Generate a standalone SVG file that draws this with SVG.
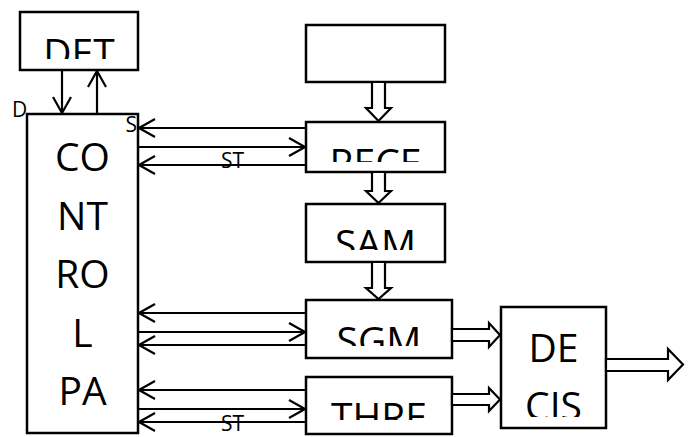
<svg xmlns="http://www.w3.org/2000/svg" width="691" height="437" viewBox="0 0 691 437">
<style>
.box{fill:#fff;stroke:#000;stroke-width:2.5}
.big{font-family:"Open Sans","Noto Sans",sans-serif;font-size:39px;fill:#000;text-anchor:middle}
.small{font-family:"Open Sans","Noto Sans",sans-serif;font-size:21px;fill:#000}
.ln{fill:none;stroke:#000;stroke-width:2.2}
.hol{fill:#fff;stroke:#000;stroke-width:2.2;stroke-linejoin:miter}
</style>
<defs>
<marker id="v" viewBox="0 0 18 20" refX="17" refY="10" markerWidth="18" markerHeight="20" markerUnits="userSpaceOnUse" orient="auto">
<path d="M1,1 L17,10 L1,19" fill="none" stroke="#000" stroke-width="2.2"/>
</marker>
<clipPath id="cDET"><rect x="20" y="12" width="118" height="47"/></clipPath>
<clipPath id="cRECE"><rect x="306" y="122" width="139" height="40"/></clipPath>
<clipPath id="cSAM"><rect x="306" y="204" width="139" height="46"/></clipPath>
<clipPath id="cSGM"><rect x="306" y="300" width="146" height="46"/></clipPath>
<clipPath id="cTHRE"><rect x="306" y="377" width="146" height="43"/></clipPath>
<clipPath id="cCIS"><rect x="501" y="307" width="105" height="110"/></clipPath>
</defs>

<g id="det">
<rect class="box" x="20" y="12" width="118" height="58"/>
<text class="big" x="79" y="67" clip-path="url(#cDET)">DET</text>
</g>

<g id="control">
<rect class="box" x="27" y="114" width="111" height="319"/>
<text class="big" x="82.5" y="171">CO</text>
<text class="big" x="82.5" y="229.5">NT</text>
<text class="big" x="82.5" y="288">RO</text>
<text class="big" x="82.5" y="346.5">L</text>
<text class="big" x="82.5" y="405">PA</text>
</g>

<g id="source">
<rect class="box" x="306" y="25" width="139" height="57"/>
</g>

<g id="rece">
<rect class="box" x="306" y="122" width="139" height="50"/>
<text class="big" x="375.5" y="177" clip-path="url(#cRECE)">RECE</text>
</g>

<g id="sam">
<rect class="box" x="306" y="204" width="139" height="58"/>
<text class="big" x="375.5" y="258" clip-path="url(#cSAM)">SAM</text>
</g>

<g id="sgm">
<rect class="box" x="306" y="300" width="146" height="58"/>
<text class="big" x="379" y="355" clip-path="url(#cSGM)">SGM</text>
</g>

<g id="thre">
<rect class="box" x="306" y="377" width="146" height="57"/>
<text class="big" x="379" y="431" clip-path="url(#cTHRE)">THRE</text>
</g>

<g id="decis">
<rect class="box" x="501" y="307" width="105" height="121"/>
<text class="big" x="553.5" y="362">DE</text>
<text class="big" x="553.5" y="420" clip-path="url(#cCIS)">CIS</text>
</g>

<g id="connectors">
<line class="ln" x1="62" y1="70" x2="62" y2="113" marker-end="url(#v)"/>
<line class="ln" x1="97" y1="114" x2="97" y2="71" marker-end="url(#v)"/>

<line class="ln" x1="306" y1="128" x2="139" y2="128" marker-end="url(#v)"/>
<line class="ln" x1="138" y1="147" x2="305" y2="147" marker-end="url(#v)"/>
<line class="ln" x1="306" y1="165" x2="139" y2="165" marker-end="url(#v)"/>

<line class="ln" x1="306" y1="313" x2="139" y2="313" marker-end="url(#v)"/>
<line class="ln" x1="138" y1="332" x2="305" y2="332" marker-end="url(#v)"/>
<line class="ln" x1="306" y1="345" x2="139" y2="345" marker-end="url(#v)"/>

<line class="ln" x1="306" y1="390" x2="139" y2="390" marker-end="url(#v)"/>
<line class="ln" x1="138" y1="409" x2="305" y2="409" marker-end="url(#v)"/>
<line class="ln" x1="306" y1="422" x2="139" y2="422" marker-end="url(#v)"/>

<polygon class="hol" points="372,82 385,82 385,108 391,108 378.5,121 366,108 372,108"/>
<polygon class="hol" points="372,172 385,172 385,191 391,191 378.5,203 366,191 372,191"/>
<polygon class="hol" points="372,262 385,262 385,288 391,288 378.5,299 366,288 372,288"/>

<polygon class="hol" points="452,329 489,329 489,323 500,335 489,347 489,341 452,341"/>
<polygon class="hol" points="452,394 489,394 489,388 500,399.5 489,411 489,405 452,405"/>
<polygon class="hol" points="606,359 668,359 668,349 683,364.5 668,380 668,371 606,371"/>

<text class="small" x="12" y="117">D</text>
<text class="small" x="137" y="132" text-anchor="end">S</text>
<text class="small" x="221" y="168">ST</text>
<text class="small" x="221" y="431">ST</text>
</g>
</svg>
